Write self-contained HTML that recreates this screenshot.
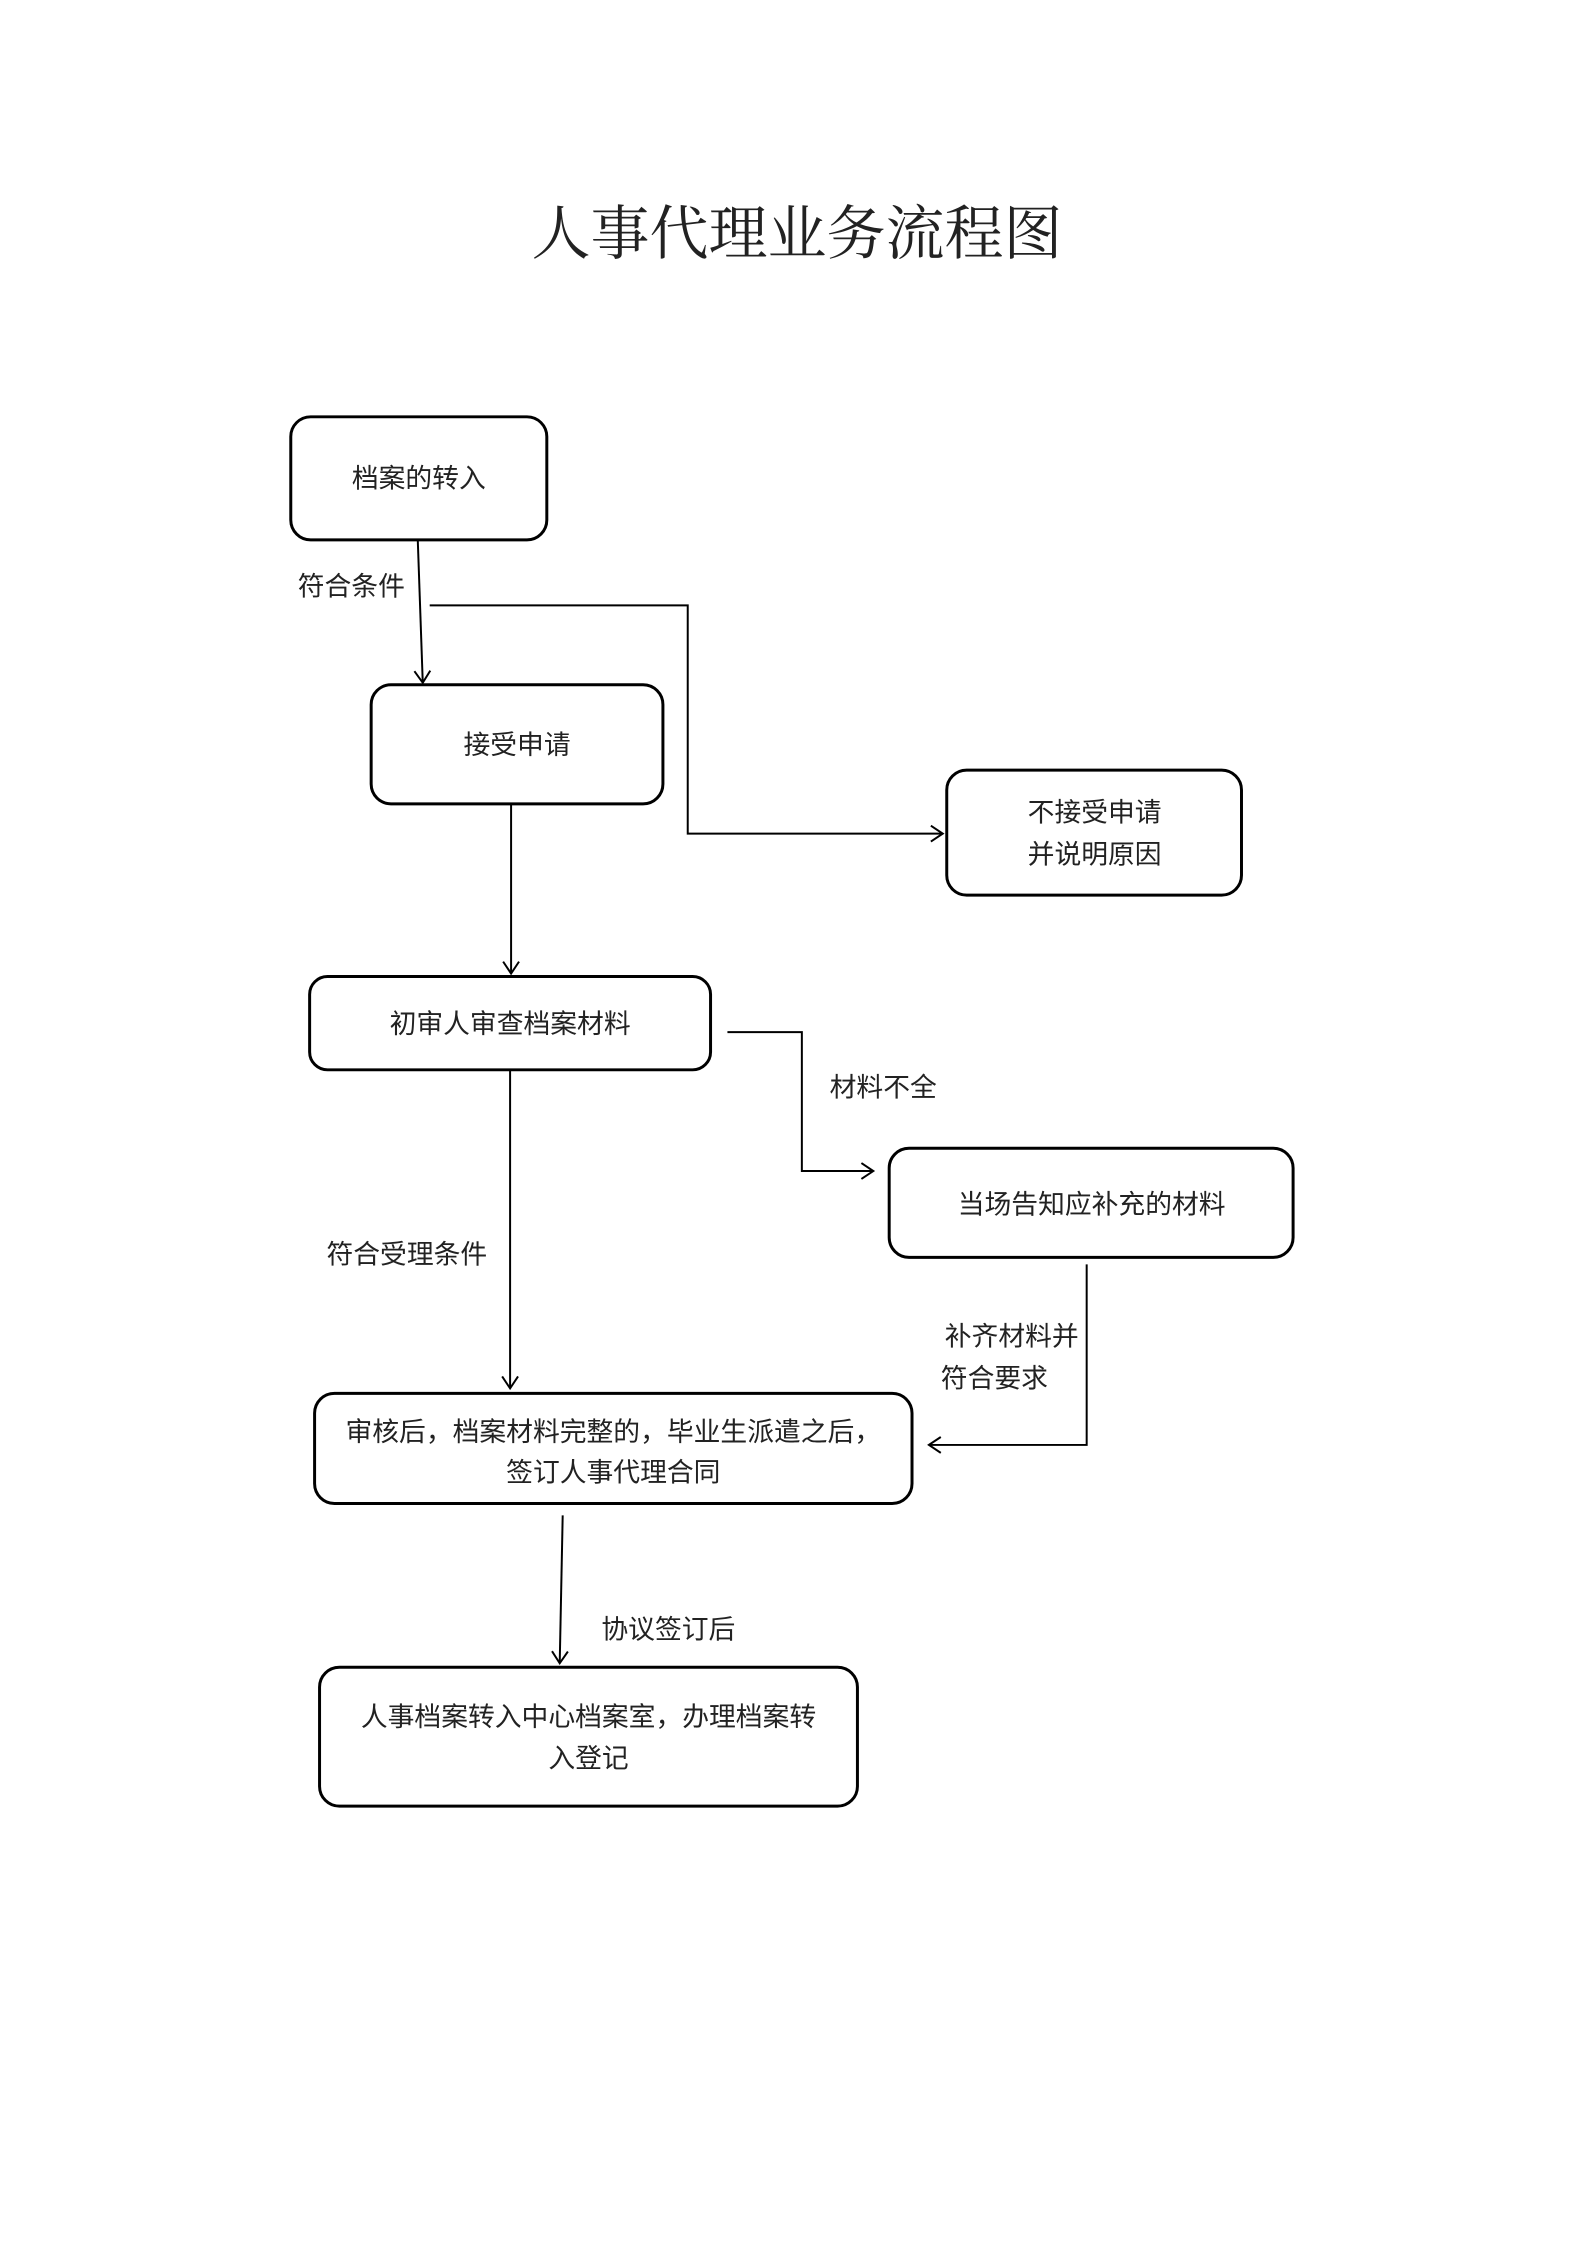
<!DOCTYPE html>
<html><head><meta charset="utf-8"><style>
html,body{margin:0;padding:0;background:#fff;}
svg{display:block;}
text{font-family:"Liberation Sans","Noto Sans CJK SC","WenQuanYi Zen Hei",sans-serif;fill:#222;}
</style></head><body>
<svg width="1587" height="2245" viewBox="0 0 1587 2245" xmlns="http://www.w3.org/2000/svg">
<defs><marker id="a" markerWidth="20" markerHeight="20" refX="14" refY="10" orient="auto" markerUnits="userSpaceOnUse"><path d="M2,2 L14,10 L2,18" fill="none" stroke="#000" stroke-width="2"/></marker></defs>
<text x="797" y="254" font-size="59" text-anchor="middle" style="font-family:'Noto Serif CJK SC',serif">人事代理业务流程图</text>
<g transform="scale(0.9924)">
<g fill="none" stroke="#000" stroke-width="3">
<rect x="293" y="420" width="258" height="124" rx="20"/>
<rect x="374" y="690" width="294" height="120" rx="20"/>
<rect x="954" y="776" width="297" height="126" rx="20"/>
<rect x="312" y="984" width="404" height="94" rx="18"/>
<rect x="896" y="1157" width="407" height="110" rx="20"/>
<rect x="317" y="1404" width="602" height="111" rx="20"/>
<rect x="322" y="1680" width="542" height="140" rx="20"/>
</g>
<g fill="none" stroke="#000" stroke-width="2">
<path d="M421,545 L426,688" marker-end="url(#a)"/>
<path d="M433,610 L693,610 L693,840 L950,840" marker-end="url(#a)"/>
<path d="M515,811 L515,981" marker-end="url(#a)"/>
<path d="M733,1040 L808,1040 L808,1180 L880,1180" marker-end="url(#a)"/>
<path d="M514,1079 L514,1399" marker-end="url(#a)"/>
<path d="M1095,1274 L1095,1456 L936,1456" marker-end="url(#a)"/>
<path d="M567,1527 L564,1676" marker-end="url(#a)"/>
</g>
<g font-size="27">
<text x="422" y="491" text-anchor="middle">档案的转入</text>
<text x="300" y="600">符合条件</text>
<text x="521" y="760" text-anchor="middle">接受申请</text>
<text x="1103" y="828" text-anchor="middle">不接受申请</text>
<text x="1103" y="870" text-anchor="middle">并说明原因</text>
<text x="514" y="1041" text-anchor="middle">初审人审查档案材料</text>
<text x="836" y="1105">材料不全</text>
<text x="1100" y="1223" text-anchor="middle">当场告知应补充的材料</text>
<text x="329" y="1273">符合受理条件</text>
<text x="952" y="1356">补齐材料并</text>
<text x="948" y="1398">符合要求</text>
<text x="618" y="1452" text-anchor="middle">审核后，档案材料完整的，毕业生派遣之后，</text>
<text x="618" y="1493" text-anchor="middle">签订人事代理合同</text>
<text x="606" y="1651">协议签订后</text>
<text x="593" y="1739" text-anchor="middle">人事档案转入中心档案室，办理档案转</text>
<text x="593" y="1781" text-anchor="middle">入登记</text>
</g>
</g>
</svg>
</body></html>
